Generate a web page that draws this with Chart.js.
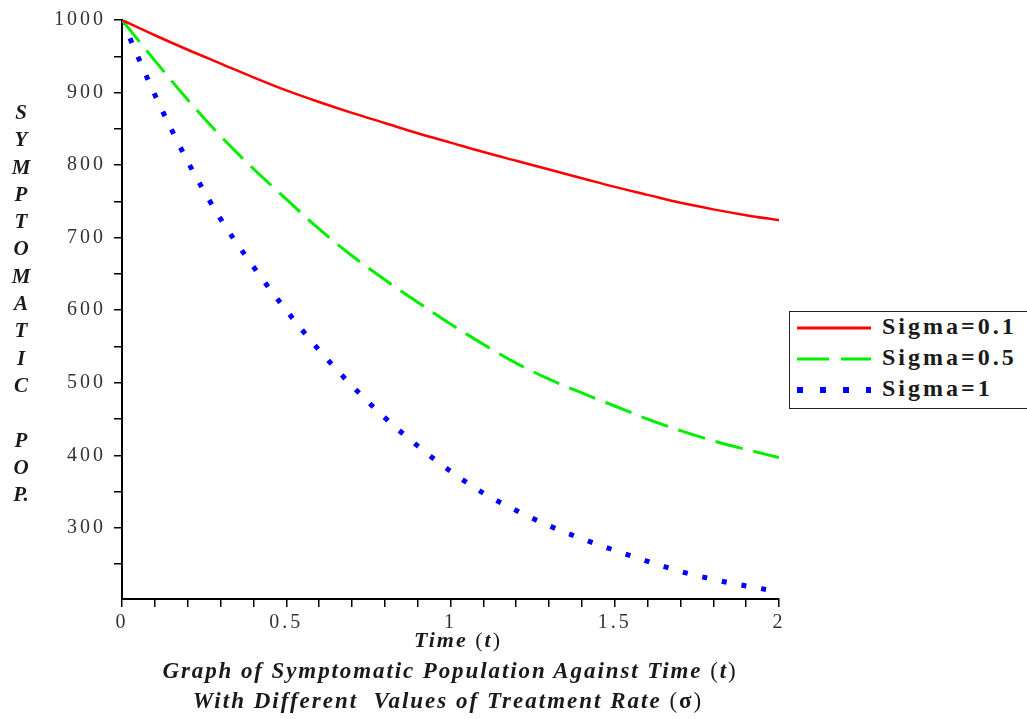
<!DOCTYPE html>
<html>
<head>
<meta charset="utf-8">
<script src="https://cdn.jsdelivr.net/npm/chart.js@4/dist/chart.umd.min.js"></script>
<style>
  body { margin: 0; background: #fff; }
  #wrap { position: relative; width: 1027px; height: 719px; overflow: hidden; }
  canvas { position: absolute; left: 0; top: 0; }
  .cap { position: absolute; font-family: "Liberation Serif", "DejaVu Serif", serif;
         font-weight: bold; font-style: italic; color: #1a1a1a; white-space: nowrap; }
  .up { font-style: normal; font-weight: normal; }
  #ylab { left: 8px; top: 99px; width: 26px; text-align: center; font-size: 21px; line-height: 27.3px; }
  #legend { position: absolute; left: 789px; top: 311px; width: 260px; height: 96px;
            border: 1.5px solid #222; background: #fff; }
  .row { position: absolute; left: 0; height: 30px; }
  .row svg { position: absolute; left: 7px; top: 0; }
  .row span { position: absolute; left: 92px; top: -1px; font-family: "Liberation Serif", serif;
              font-weight: bold; font-size: 24px; letter-spacing: 3px; color: #1a1a1a; white-space: nowrap; }
</style>
</head>
<body>
<div id="wrap">
  <canvas id="chart" width="1027" height="719"></canvas>
  <div id="ylab" class="cap"></div>
  <div class="cap" style="left:0;width:916px;text-align:center;top:627px;font-size:22px;letter-spacing:2px;">Time <span class="up">(</span>t<span class="up">)</span></div>
  <div class="cap" style="left:0;width:900px;text-align:center;top:658px;font-size:23px;letter-spacing:1.9px;">Graph of Symptomatic Population Against Time <span class="up">(</span>t<span class="up">)</span></div>
  <div class="cap" style="left:0;width:896px;text-align:center;top:688px;font-size:23px;letter-spacing:2px;">With Different&nbsp; Values of Treatment Rate <span class="up">(</span><span style="font-style:normal">σ</span><span class="up">)</span></div>
  <div id="legend"></div>
</div>
<script>
// time values (t)
const timeT = [0, 0.1, 0.2, 0.3, 0.4, 0.5, 0.6, 0.7, 0.8, 0.9, 1.0,
               1.1, 1.2, 1.3, 1.4, 1.5, 1.6, 1.7, 1.8, 1.9, 2.0];
// symptomatic population for each treatment rate
const sigma01 = [1000, 979, 959, 940, 921, 903, 887, 872, 858, 844, 831,
                 818, 806, 794, 782, 770, 759, 748, 739, 731, 724];
const sigma05 = [1000, 944, 890, 840, 795, 753, 712, 675, 642, 611, 581,
                 553, 527, 505, 486, 468, 450, 434, 420, 408, 397];
const sigma1  = [1000, 897, 805, 726, 660, 600, 545, 496, 452, 413, 378,
                 348, 324, 303, 285, 269, 254, 240, 229, 220, 212];
const seriesNames = ['Sigma=0.1', 'Sigma=0.5', 'Sigma=1'];
const xTickLabels = ['0', '0.5', '1', '1.5', '2'];
const yTickLabels = ['300', '400', '500', '600', '700', '800', '900', '1000'];
const yTitle = ['S','Y','M','P','T','O','M','A','T','I','C','','P','O','P.'];

//stacked y axis title
document.getElementById('ylab').innerHTML = yTitle.map(function (c) { return c || '&nbsp;'; }).join('<br>');

function pts(ys) {
  return timeT.map(function (t, i) { return { x: t, y: ys[i] }; });
}

const colors = ['#ff0000', '#00ee00', '#0000ff'];
const dashes = [[], [28, 11], [5, 15]];
const widths = [2.5, 3, 5];

//legend box
const leg = document.getElementById('legend');
seriesNames.forEach(function (name, i) {
  const row = document.createElement('div');
  row.className = 'row';
  row.style.top = (2 + i * 31) + 'px';
  row.innerHTML = '<svg width="80" height="30"><line x1="0" y1="14" x2="74" y2="14" stroke="' + colors[i] +
    '" stroke-width="' + (i === 2 ? 6 : 3) + '" stroke-dasharray="' + (i === 1 ? '32 12' : (i === 2 ? '6 17' : 'none')) +
    '"/></svg><span>' + name + '</span>';
  leg.appendChild(row);
});

const serif = "'Liberation Serif', 'DejaVu Serif', serif";

//wide letter spacing like the original tick labels
const spacing = {
  id: 'spacing',
  beforeDraw: function (chart) { chart.ctx.letterSpacing = '3px'; }
};

new Chart(document.getElementById('chart').getContext('2d'), {
  type: 'line',
  data: {
    datasets: [sigma01, sigma05, sigma1].map(function (ys, i) {
      return {
        label: seriesNames[i],
        data: pts(ys),
        borderColor: colors[i],
        borderWidth: widths[i],
        borderDash: dashes[i],
        pointRadius: 0,
        cubicInterpolationMode: 'monotone',
        fill: false
      };
    })
  },
  options: {
    responsive: false,
    animation: false,
    layout: { padding: { left: 0, top: 19, right: 248, bottom: 80 } },
    plugins: { legend: { display: false }, tooltip: { enabled: false } },
    scales: {
      x: {
        type: 'linear',
        min: 0,
        max: 2,
        afterFit: function (s) { s.height = 40; },
        border: { display: true, color: '#000', width: 2 },
        grid: { drawOnChartArea: false, drawTicks: true, tickLength: 8, color: '#000', lineWidth: 1.5 },
        ticks: {
          stepSize: 0.1,
          autoSkip: false,
          maxRotation: 0,
          padding: 4,
          color: '#333',
          font: { family: serif, size: 20 },
          callback: function (v) {
            const s = String(Math.round(v * 10) / 10);
            return xTickLabels.indexOf(s) >= 0 ? s : '';
          }
        }
      },
      y: {
        min: 202,
        max: 1000,
        afterFit: function (s) { s.width = 122; },
        afterBuildTicks: function (s) {
          // major ticks every 100, minor every 50
          const t = [];
          for (let v = 250; v <= 1000; v += 50) t.push({ value: v });
          s.ticks = t;
        },
        border: { display: true, color: '#000', width: 2 },
        grid: { drawOnChartArea: false, drawTicks: true, tickLength: 8, color: '#000', lineWidth: 1.5 },
        ticks: {
          autoSkip: false,
          padding: 8,
          color: '#333',
          font: { family: serif, size: 20 },
          callback: function (v) {
            const s = String(v);
            return yTickLabels.indexOf(s) >= 0 ? s : '';
          }
        }
      }
    }
  },
  plugins: [spacing]
});
</script>
</body>
</html>
